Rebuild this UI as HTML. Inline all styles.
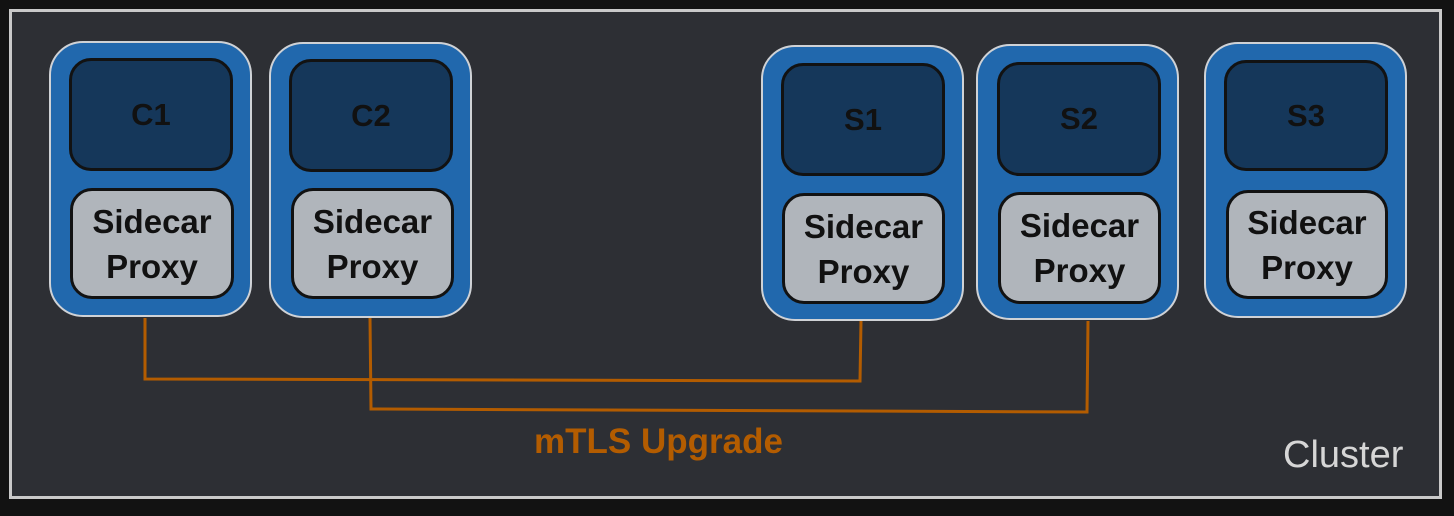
<!DOCTYPE html>
<html><head><meta charset="utf-8"><style>
html,body{margin:0;padding:0;background:#121212;}
body{width:1454px;height:516px;position:relative;overflow:hidden;font-family:"Liberation Sans",sans-serif;}
.frame{position:absolute;left:9px;top:9px;width:1427px;height:484px;border:3px solid #c9c9c9;background:#2d2f34;}
.pod{position:absolute;width:203px;height:276px;background:#2168ad;border:2px solid #cfd2d6;border-radius:34px;box-sizing:border-box;}
.top{position:absolute;background:#15375a;border:3.5px solid #121212;border-radius:22px;box-sizing:border-box;display:flex;align-items:center;justify-content:center;font-size:31px;color:#111;font-weight:bold;}
.px{position:absolute;background:#b0b5bb;border:3.5px solid #121212;border-radius:22px;box-sizing:border-box;display:flex;align-items:center;justify-content:center;text-align:center;font-size:33px;line-height:45px;color:#111;font-weight:bold;}
.t{position:absolute;}
</style></head><body>
<div class="frame"></div>
<svg style="position:absolute;left:0;top:0" width="1454" height="516">
<g fill="none" stroke="#b35c00" stroke-width="3">
<polyline points="145,318 145,379 860,381 861,321"/>
<polyline points="370,318 371,409 1087,412 1088,321"/>
</g></svg>

<div class="pod" style="left:49px;top:41px;"></div>
<div class="top" style="left:69px;top:58px;width:164px;height:113px;">C1</div>
<div class="px" style="left:70px;top:188px;width:164px;height:111px;">Sidecar<br>Proxy</div>

<div class="pod" style="left:269px;top:42px;"></div>
<div class="top" style="left:289px;top:59px;width:164px;height:113px;">C2</div>
<div class="px" style="left:291px;top:188px;width:163px;height:111px;">Sidecar<br>Proxy</div>

<div class="pod" style="left:761px;top:45px;"></div>
<div class="top" style="left:781px;top:63px;width:164px;height:113px;">S1</div>
<div class="px" style="left:782px;top:193px;width:163px;height:111px;">Sidecar<br>Proxy</div>

<div class="pod" style="left:976px;top:44px;"></div>
<div class="top" style="left:997px;top:62px;width:164px;height:114px;">S2</div>
<div class="px" style="left:998px;top:192px;width:163px;height:112px;">Sidecar<br>Proxy</div>

<div class="pod" style="left:1204px;top:42px;"></div>
<div class="top" style="left:1224px;top:60px;width:164px;height:111px;">S3</div>
<div class="px" style="left:1226px;top:190px;width:162px;height:109px;">Sidecar<br>Proxy</div>

<div class="t" style="left:534px;top:422px;color:#b35c00;font-weight:bold;font-size:35px;">mTLS Upgrade</div>
<div class="t" style="left:1283px;top:434px;color:#d6d6d6;font-size:38px;">Cluster</div>
</body></html>
